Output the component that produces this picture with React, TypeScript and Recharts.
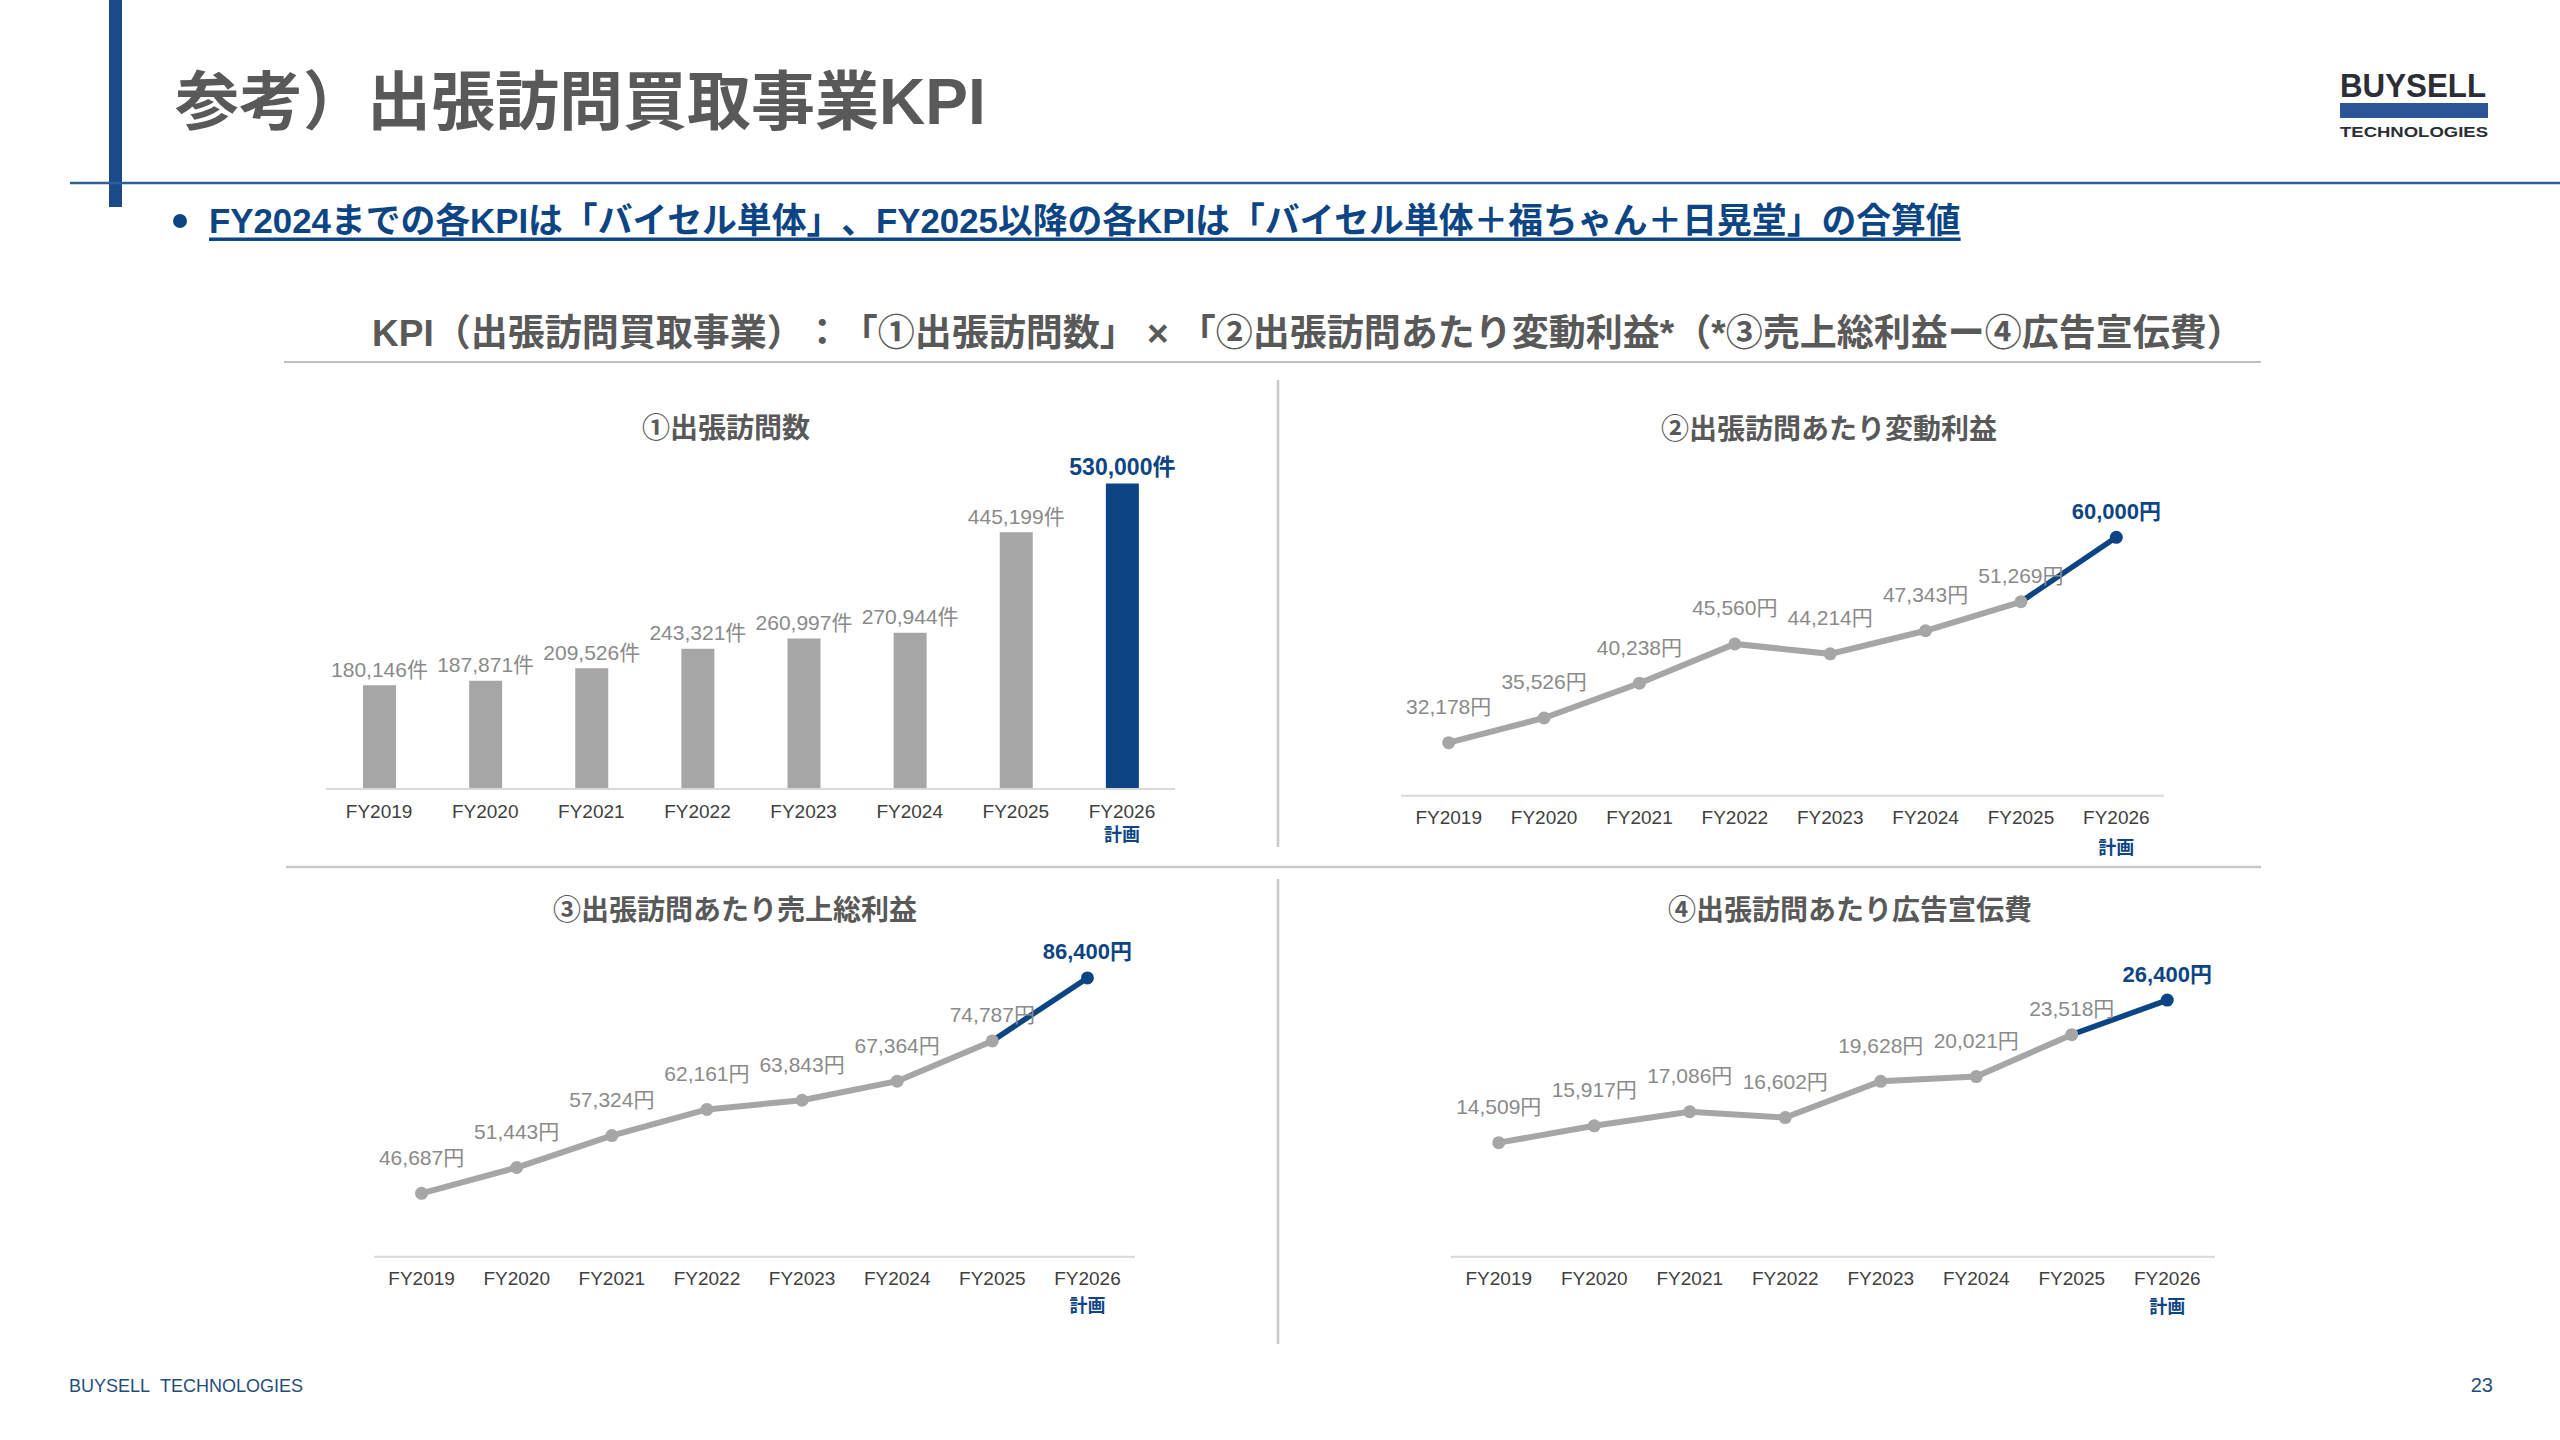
import React from 'react';
import { BarChart, Bar, Cell, LineChart, Line, XAxis, YAxis, LabelList } from 'recharts';

// ---- data ----
const fiscalYears = ['FY2019', 'FY2020', 'FY2021', 'FY2022', 'FY2023', 'FY2024', 'FY2025', 'FY2026'];
const planYear = 'FY2026';
const planNote = '計画';

const visitCounts = [180146, 187871, 209526, 243321, 260997, 270944, 445199, 530000];
const variableProfitPerVisit = [32178, 35526, 40238, 45560, 44214, 47343, 51269, 60000];
const grossProfitPerVisit = [46687, 51443, 57324, 62161, 63843, 67364, 74787, 86400];
const adCostPerVisit = [14509, 15917, 17086, 16602, 19628, 20021, 23518, 26400];

const pageTitle = '参考）出張訪問買取事業KPI';
const noteText = 'FY2024までの各KPIは「バイセル単体」、FY2025以降の各KPIは「バイセル単体＋福ちゃん＋日晃堂」の合算値';
const formulaText = 'KPI（出張訪問買取事業）：「①出張訪問数」 × 「②出張訪問あたり変動利益*（*③売上総利益ー④広告宣伝費）';
const panelTitles = ['①出張訪問数', '②出張訪問あたり変動利益', '③出張訪問あたり売上総利益', '④出張訪問あたり広告宣伝費'];
const countUnit = '件';
const yenUnit = '円';
const footerText = 'BUYSELL TECHNOLOGIES';
const pageNumber = '23';

// ---- styles ----
const FONT = "'Liberation Sans', Arial, 'Noto Sans CJK JP', sans-serif";
const NAVY = '#0d4584';
const BAR_GRAY = '#a6a6a6';
const LABEL_GRAY = '#8a8a8a';
const AXIS_GRAY = '#d9d9d9';
const TEXT_GRAY = '#595959';
const TICK_GRAY = '#404040';
const RULE_GRAY = '#c8c8c8';
// keep full-width punctuation at full width
const FULL_PUNCT: any = { textSpacingTrim: 'space-all', whiteSpace: 'pre' };

const fmt = (v: number) => v.toLocaleString('en-US');
const lastIndex = fiscalYears.length - 1;

const YearTick = (props: any) => {
  const { x, y, payload, noteGap } = props;
  return (
    <g>
      <text x={x} y={y + 22} textAnchor="middle" dominantBaseline="central" fontSize={19} fill={TICK_GRAY} fontFamily={FONT}>
        {payload.value}
      </text>
      {payload.value === planYear && (
        <text x={x} y={y + noteGap} textAnchor="middle" dominantBaseline="central" fontSize={18} fontWeight={700} fill={NAVY} fontFamily={FONT}>
          {planNote}
        </text>
      )}
    </g>
  );
};

// ---- ① bar panel ----
const visitRows = fiscalYears.map((year, i) => ({ year, visits: visitCounts[i] }));

const BarValueLabel = (props: any) => {
  const { x, y, width, value, index } = props;
  const idx = typeof index === 'number' ? index : visitCounts.indexOf(value);
  const isPlan = idx === lastIndex;
  return (
    <text
      x={x + width / 2}
      y={y - 16}
      textAnchor="middle"
      dominantBaseline="central"
      fontSize={isPlan ? 23 : 21}
      fontWeight={isPlan ? 700 : 400}
      fill={isPlan ? NAVY : LABEL_GRAY}
      fontFamily={FONT}
    >
      {fmt(value)}
      {countUnit}
    </text>
  );
};

const VisitsPanel = () => (
  <div style={{ position: 'absolute', left: 300, top: 440 }}>
    <BarChart width={900} height={420} data={visitRows} margin={{ top: 43.4, right: 25, left: 26, bottom: 31 }}>
      <XAxis
        dataKey="year"
        interval={0}
        height={40}
        tickLine={false}
        tickSize={0}
        tickMargin={0}
        axisLine={{ stroke: AXIS_GRAY, strokeWidth: 2 }}
        tick={(p: any) => <YearTick {...p} noteGap={46} />}
      />
      <YAxis hide domain={[0, 530000]} />
      <Bar dataKey="visits" barSize={33} isAnimationActive={false}>
        {visitRows.map((r, i) => (
          <Cell key={r.year} fill={i === lastIndex ? NAVY : BAR_GRAY} />
        ))}
        <LabelList dataKey="visits" content={<BarValueLabel />} />
      </Bar>
    </BarChart>
  </div>
);

// ---- ②③④ line panels ----
const buildLineRows = (values: number[]) =>
  fiscalYears.map((year, i) => ({
    year,
    value: values[i],
    actual: year === planYear ? null : values[i],
    plan: i >= lastIndex - 1 ? values[i] : null,
  }));

const makePointLabel = (values: number[]) => (props: any) => {
  const { x, y, value, index } = props;
  if (value == null) return null;
  const idx = typeof index === 'number' ? index : values.indexOf(value);
  const isPlan = idx === lastIndex;
  const lift = idx >= lastIndex - 1 ? 26 : 36;
  return (
    <text
      x={x}
      y={y - lift}
      textAnchor="middle"
      dominantBaseline="central"
      fontSize={isPlan ? 22 : 21}
      fontWeight={isPlan ? 700 : 400}
      fill={isPlan ? NAVY : LABEL_GRAY}
      fontFamily={FONT}
    >
      {fmt(value)}
      {yenUnit}
    </text>
  );
};

type LinePanelProps = {
  values: number[];
  domain: [number, number];
  left: number;
  top: number;
  width: number;
  height: number;
  margin: { top: number; right: number; left: number; bottom: number };
  noteGap: number;
};

const LinePanel = ({ values, domain, left, top, width, height, margin, noteGap }: LinePanelProps) => {
  const rows = buildLineRows(values);
  const plotWidth = width - margin.left - margin.right;
  const pad = plotWidth / (fiscalYears.length * 2);
  const PointLabel = makePointLabel(values);
  return (
    <div style={{ position: 'absolute', left, top }}>
      <LineChart width={width} height={height} data={rows} margin={margin}>
        <XAxis
          dataKey="year"
          interval={0}
          height={40}
          padding={{ left: pad, right: pad }}
          tickLine={false}
          tickSize={0}
          tickMargin={0}
          axisLine={{ stroke: AXIS_GRAY, strokeWidth: 2 }}
          tick={(p: any) => <YearTick {...p} noteGap={noteGap} />}
        />
        <YAxis hide domain={domain} />
        {/* value labels sit underneath the lines */}
        <Line dataKey="value" stroke="none" dot={false} activeDot={false} isAnimationActive={false} legendType="none">
          <LabelList dataKey="value" content={<PointLabel />} />
        </Line>
        {/* plan segment FY2025 → FY2026 */}
        <Line
          dataKey="plan"
          stroke={NAVY}
          strokeWidth={5.5}
          connectNulls={false}
          activeDot={false}
          isAnimationActive={false}
          dot={(p: any) =>
            p.index === lastIndex ? (
              <circle key={`plan-dot-${p.index}`} cx={p.cx} cy={p.cy} r={6.5} fill={NAVY} />
            ) : (
              <g key={`plan-dot-${p.index}`} />
            )
          }
        />
        {/* actual results FY2019 → FY2025 */}
        <Line
          dataKey="actual"
          stroke={BAR_GRAY}
          strokeWidth={6}
          activeDot={false}
          isAnimationActive={false}
          dot={{ r: 6.5, fill: BAR_GRAY, stroke: BAR_GRAY, strokeWidth: 0 }}
        />
      </LineChart>
    </div>
  );
};

// ---- page ----
const Page = () => (
  <svg width={2560} height={1440} style={{ position: 'absolute', left: 0, top: 0, ...FULL_PUNCT }}>
    <rect x={0} y={0} width={2560} height={1440} fill="#ffffff" />
    {/* header */}
    <rect x={109} y={0} width={13} height={207} fill="#1a4a87" />
    <line x1={70} y1={183} x2={2560} y2={183} stroke="#2f5f96" strokeWidth={2.5} />
    <text x={175} y={102} dominantBaseline="central" fontSize={64} fontWeight={700} fill={TEXT_GRAY} fontFamily={FONT} style={FULL_PUNCT}>
      {pageTitle}
    </text>
    {/* logo */}
    <text x={2340} y={97} fontSize={34} fontWeight={700} fill="#2b2e34" fontFamily={FONT} textLength={146} lengthAdjust="spacingAndGlyphs">
      BUYSELL
    </text>
    <rect x={2340} y={103} width={148} height={15} fill="#2d5598" />
    <text x={2340} y={137} fontSize={15.5} fontWeight={700} fill="#2b2e34" fontFamily={FONT} textLength={148} lengthAdjust="spacingAndGlyphs">
      TECHNOLOGIES
    </text>
    {/* note */}
    <circle cx={180} cy={221} r={7} fill={NAVY} />
    <text x={209} y={220} dominantBaseline="central" fontSize={34.8} fontWeight={700} fill={NAVY} fontFamily={FONT} textDecoration="underline" style={FULL_PUNCT}>
      {noteText}
    </text>
    {/* formula */}
    <text x={372} y={333} dominantBaseline="central" fontSize={37} fontWeight={700} fill={TEXT_GRAY} fontFamily={FONT} style={FULL_PUNCT}>
      {formulaText}
    </text>
    <line x1={284} y1={362} x2={2261} y2={362} stroke="#bfbfbf" strokeWidth={2} />
    {/* panel rules */}
    <line x1={1278} y1={380} x2={1278} y2={847} stroke={RULE_GRAY} strokeWidth={2.5} />
    <line x1={1278} y1={879} x2={1278} y2={1344} stroke={RULE_GRAY} strokeWidth={2.5} />
    <line x1={286} y1={867} x2={2261} y2={867} stroke={RULE_GRAY} strokeWidth={2.5} />
    {/* panel titles */}
    {[
      [726, 428],
      [1829, 429],
      [735, 910],
      [1850, 910],
    ].map(([cx, cy], i) => (
      <text key={panelTitles[i]} x={cx} y={cy} textAnchor="middle" dominantBaseline="central" fontSize={28} fontWeight={700} fill={TEXT_GRAY} fontFamily={FONT}>
        {panelTitles[i]}
      </text>
    ))}
    {/* footer */}
    <text x={69} y={1386} dominantBaseline="central" fontSize={18} fill="#1f4e79" fontFamily={FONT} wordSpacing={6}>
      {footerText}
    </text>
    <text x={2493} y={1385} textAnchor="end" dominantBaseline="central" fontSize={20} fill="#1f4e79" fontFamily={FONT}>
      {pageNumber}
    </text>
  </svg>
);

export default function App() {
  return (
    <div style={{ position: 'absolute', left: 0, top: 0, width: 2560, height: 1440, background: '#fff', overflow: 'hidden' }}>
      <Page />
      <VisitsPanel />
      <LinePanel
        values={variableProfitPerVisit}
        domain={[25000, 65000]}
        left={1380}
        top={460}
        width={810}
        height={420}
        margin={{ top: 40.4, right: 26, left: 21, bottom: 44.3 }}
        noteGap={52}
      />
      <LinePanel
        values={grossProfitPerVisit}
        domain={[35000, 90000]}
        left={350}
        top={920}
        width={800}
        height={420}
        margin={{ top: 38.4, right: 15, left: 24, bottom: 43.3 }}
        noteGap={49}
      />
      <LinePanel
        values={adCostPerVisit}
        domain={[5000, 30000]}
        left={1430}
        top={920}
        width={800}
        height={420}
        margin={{ top: 36.9, right: 15, left: 21, bottom: 43.3 }}
        noteGap={50}
      />
    </div>
  );
}
